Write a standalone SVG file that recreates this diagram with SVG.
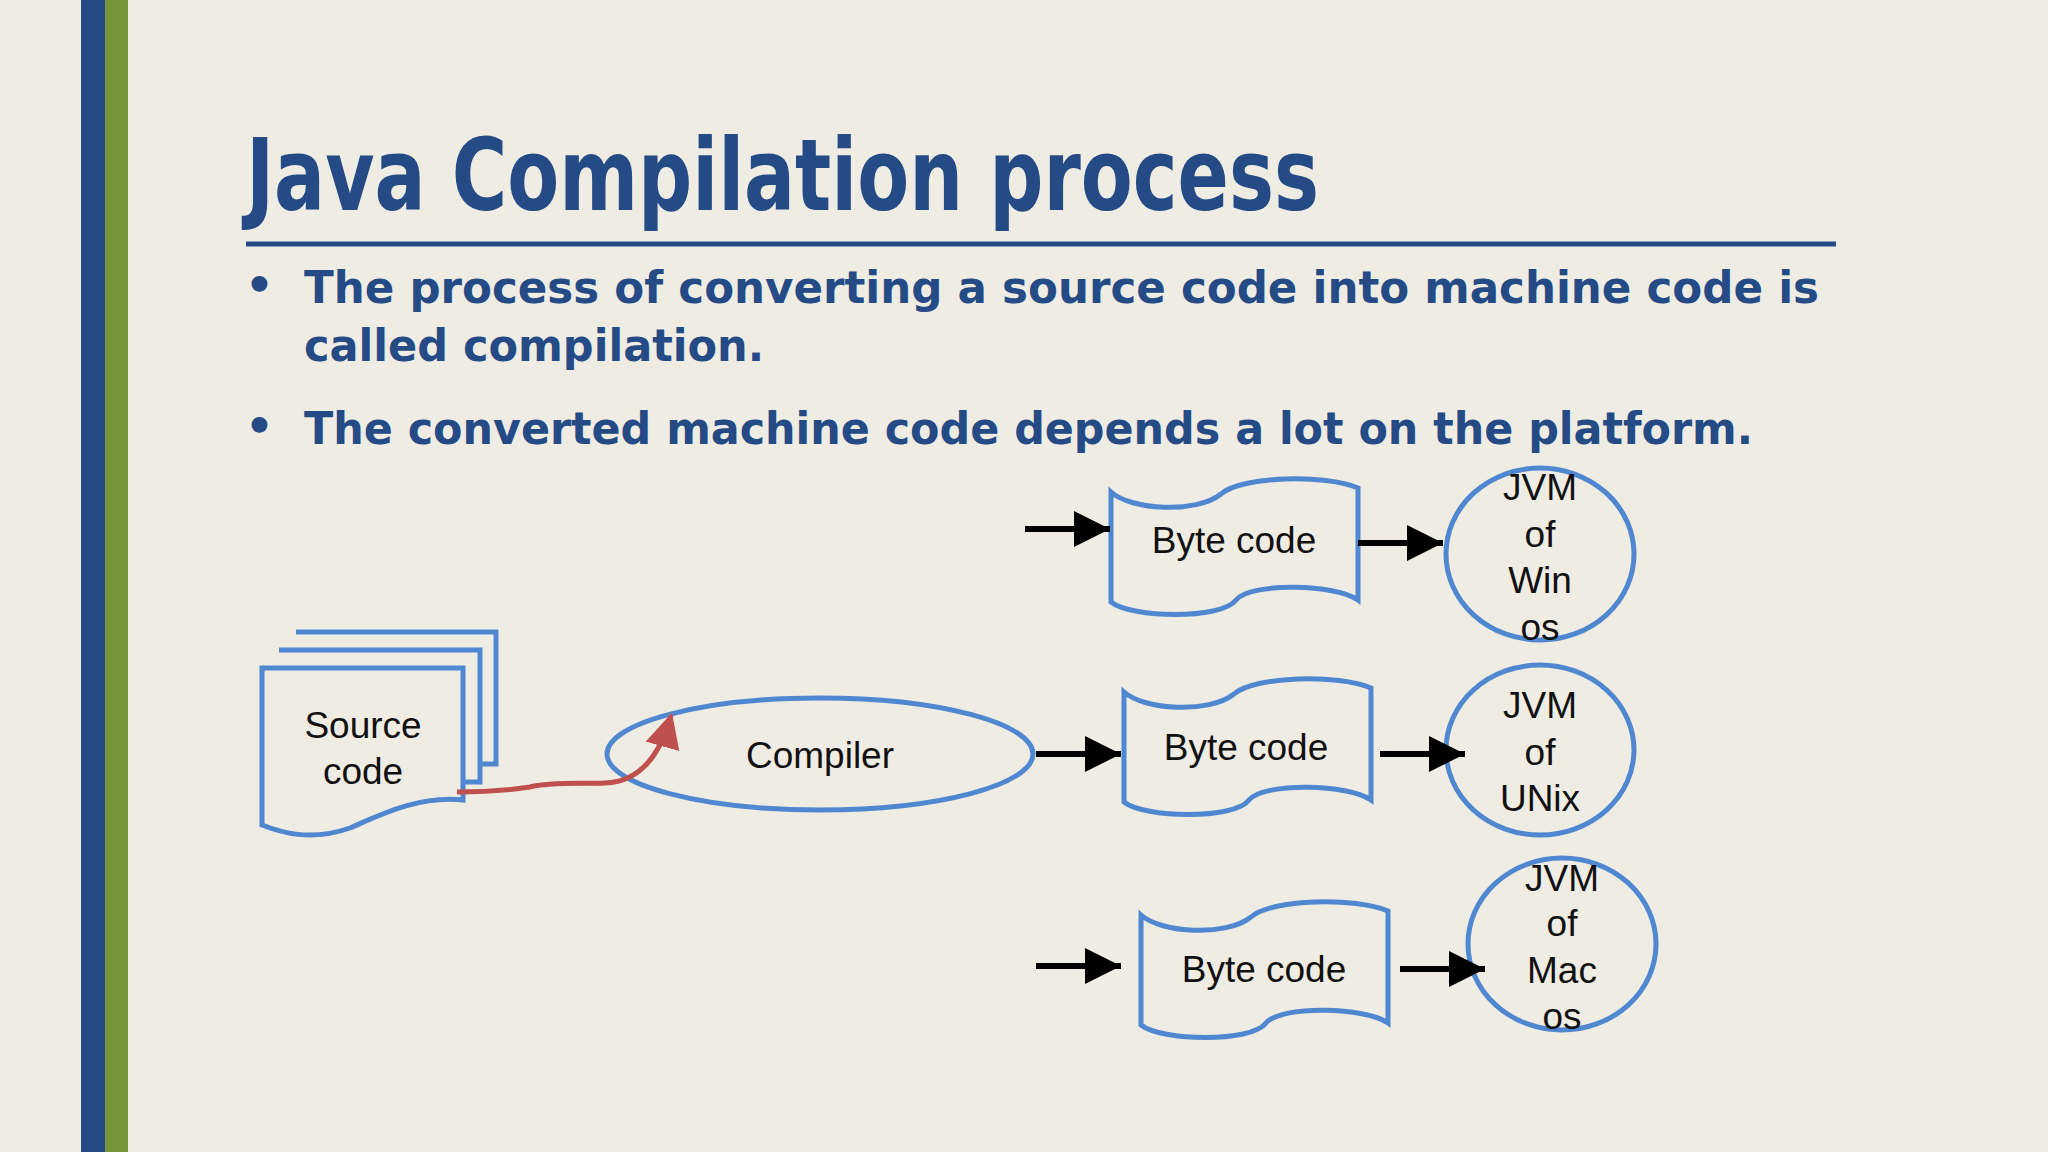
<svg xmlns="http://www.w3.org/2000/svg" width="2048" height="1152" viewBox="0 0 2048 1152">
<defs>
<style>
.shape{fill:none;stroke:#4f87d0;stroke-width:5}
.lbl{font-family:"Liberation Sans",Arial,sans-serif;font-size:37px;fill:#111;text-anchor:middle}
.arr{stroke:#000;stroke-width:6;fill:none}
.bul{font-family:"DejaVu Sans","Open Sans",sans-serif;font-weight:bold;font-size:45px;fill:#244b85}
</style>
<marker id="ah" viewBox="0 0 10 10" refX="10" refY="5" markerWidth="6" markerHeight="6.5" markerUnits="strokeWidth" orient="auto"><path d="M0,0 L10,5 L0,10 Z" fill="#000"/></marker>
<marker id="rh" viewBox="0 0 10 10" refX="9" refY="5" markerWidth="7" markerHeight="7" markerUnits="strokeWidth" orient="auto"><path d="M0,0 L10,5 L0,10 Z" fill="#c0504d"/></marker>
<path id="tape" d="M0,12 C20,30 85,34 110,14 C130,-4 215,-6 247,8 L247,120 C225,104 140,102 125,120 C110,140 20,138 0,122 Z"/>
</defs>
<rect width="2048" height="1152" fill="#efece4"/>
<rect x="81" y="0" width="24" height="1152" fill="#244b85"/>
<rect x="105" y="0" width="23" height="1152" fill="#77963c"/>
<text x="246" y="210" font-family="'DejaVu Sans Condensed','Liberation Sans Narrow',sans-serif" font-weight="bold" font-size="100" fill="#244b85" textLength="1073" lengthAdjust="spacingAndGlyphs">Java Compilation process</text>
<line x1="246" y1="244" x2="1836" y2="244" stroke="#244b85" stroke-width="5"/>
<text x="245" y="300" class="bul">•</text>
<text x="304" y="303" class="bul" textLength="1515" lengthAdjust="spacingAndGlyphs">The process of converting a source code into machine code is</text>
<text x="304" y="361" class="bul" textLength="460" lengthAdjust="spacingAndGlyphs">called compilation.</text>
<text x="245" y="441" class="bul">•</text>
<text x="304" y="444" class="bul" textLength="1449" lengthAdjust="spacingAndGlyphs">The converted machine code depends a lot on the platform.</text>

<g id="source">
<path class="shape" d="M296,632 H496 V764 H480"/>
<path class="shape" d="M279,650 H480 V782 H464"/>
<path class="shape" d="M262,668 H463 V800 C420,795 380,815 350,828 C310,842 280,832 262,825 Z" fill="#efece4"/>
<text x="363" y="738" class="lbl">Source</text>
<text x="363" y="784" class="lbl">code</text>
</g>
<g id="compiler">
<ellipse class="shape" cx="820" cy="754" rx="213" ry="56"/>
<text x="820" y="768" class="lbl">Compiler</text>
</g>
<g id="bc1"><use href="#tape" class="shape" transform="translate(1111,480)"/><text x="1234" y="553" class="lbl">Byte code</text></g>
<g id="bc2"><use href="#tape" class="shape" transform="translate(1124,680)"/><text x="1246" y="760" class="lbl">Byte code</text></g>
<g id="bc3"><use href="#tape" class="shape" transform="translate(1141,903)"/><text x="1264" y="982" class="lbl">Byte code</text></g>
<g id="jvm1"><ellipse class="shape" cx="1540" cy="554" rx="94" ry="86"/>
<text class="lbl" x="1540" y="500">JVM</text><text class="lbl" x="1540" y="547">of</text><text class="lbl" x="1540" y="593">Win</text><text class="lbl" x="1540" y="640">os</text></g>
<g id="jvm2"><ellipse class="shape" cx="1540" cy="750" rx="94" ry="85"/>
<text class="lbl" x="1540" y="718">JVM</text><text class="lbl" x="1540" y="765">of</text><text class="lbl" x="1540" y="811">UNix</text></g>
<g id="jvm3"><ellipse class="shape" cx="1562" cy="944" rx="94" ry="86"/>
<text class="lbl" x="1562" y="891">JVM</text><text class="lbl" x="1562" y="936">of</text><text class="lbl" x="1562" y="983">Mac</text><text class="lbl" x="1562" y="1029">os</text></g>
<g id="connectors">
<path d="M457,792 C490,792 510,790 530,787 C550,782 580,784 605,783 C640,782 660,755 671,716" stroke="#c0504d" stroke-width="5" fill="none" marker-end="url(#rh)"/>
<line class="arr" x1="1025" y1="529" x2="1110" y2="529" marker-end="url(#ah)"/>
<line class="arr" x1="1358" y1="543" x2="1443" y2="543" marker-end="url(#ah)"/>
<line class="arr" x1="1036" y1="754" x2="1121" y2="754" marker-end="url(#ah)"/>
<line class="arr" x1="1380" y1="754" x2="1465" y2="754" marker-end="url(#ah)"/>
<line class="arr" x1="1036" y1="966" x2="1121" y2="966" marker-end="url(#ah)"/>
<line class="arr" x1="1400" y1="969" x2="1485" y2="969" marker-end="url(#ah)"/>
</g>
</svg>
